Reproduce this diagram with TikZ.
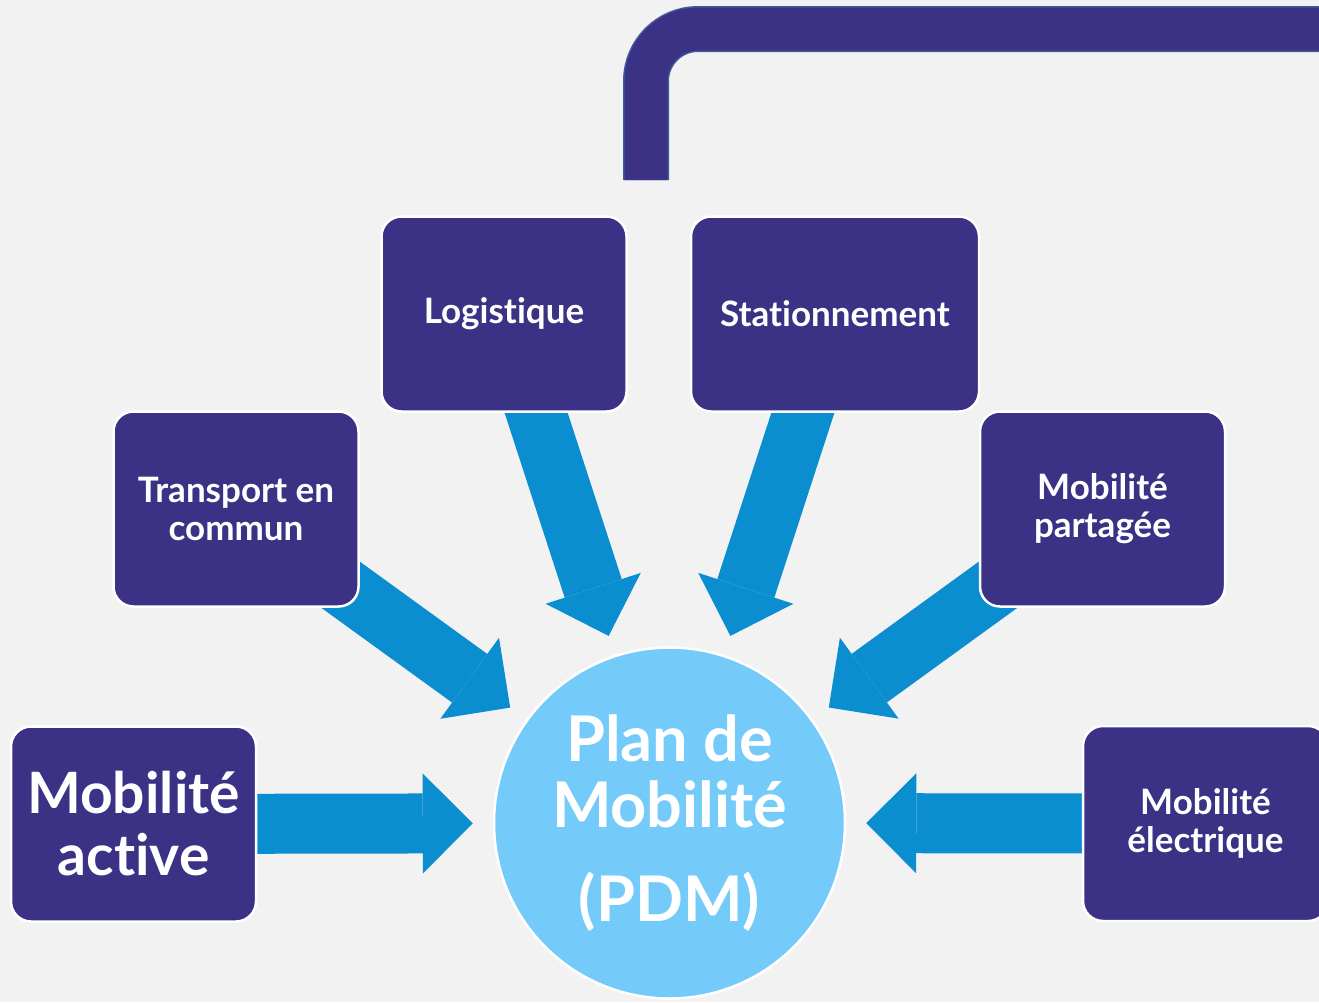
\documentclass[tikz,border=0pt]{standalone}
\usepackage{fontspec}
\setmainfont{Lato}[Ligatures=NoCommon]
\usetikzlibrary{arrows.meta}

\definecolor{bggray}{HTML}{F2F2F2}
\definecolor{boxpurple}{HTML}{3B3185}
\definecolor{flowblue}{HTML}{0B8ED0}
\definecolor{hubblue}{HTML}{74CBF9}
\definecolor{barrim}{HTML}{3F5C98}

\pgfdeclarelayer{back}
\pgfsetlayers{back,main}

\begin{document}
\begin{tikzpicture}[x=1pt,y=-1pt,
        box/.style={draw=white, line width=2.5pt, fill=boxpurple, rounded corners=20pt,
            minimum width=245pt, minimum height=195pt, inner sep=0pt,
            text=white, align=center, font=\bfseries\fontsize{35}{38}\selectfont},
        hub/.style={circle, draw=white, line width=2.5pt, fill=hubblue, minimum size=351pt,
            inner sep=0pt, text=white, align=center, font=\bfseries\fontsize{63}{66}\selectfont},
        flow/.style={draw=flowblue, line width=60pt, shorten >=20pt,
            -{Triangle[length=50pt,width=100pt,line width=0pt]}}]
                % page
                \useasboundingbox (0,0) rectangle (1319,1002);
                % boxes
                \node[box, font=\bfseries\fontsize{57}{62}\selectfont] (act) at (133.5,824) {Mobilité\\active};
                \node[box] (trans) at (236,509) {Transport en\\commun};
                \node[box] (logi) at (504,314) {Logistique};
                \node[box, minimum width=288pt] (stat) at (835,314) {Stationnement};
                \node[box] (part) at (1102.5,509) {Mobilité\\partagée};
                \node[box] (elec) at (1205.5,823.5) {Mobilité\\électrique};
                % centre
                \node[hub] (pdm) at (669.5,823) {Plan de\\Mobilité\\[28pt](PDM)};
                % arrows, behind the boxes
                \begin{pgfonlayer}{back}
                    \fill[bggray] (0,0) rectangle (1319,1002);
                    \foreach \src in {act,trans,logi,stat,part,elec}
                        \draw[flow] (\src.center) -- (pdm);
                \end{pgfonlayer}
                % bar leaving the page
                \coordinate (barfoot) at (646,180);
                \coordinate (barend) at (1340,29);
                \draw[barrim, line width=46pt, rounded corners=52pt] (barfoot) |- (barend);
                \draw[boxpurple, line width=43pt, rounded corners=52pt] (barfoot) |- (barend);
            \end{tikzpicture}
\end{document}
